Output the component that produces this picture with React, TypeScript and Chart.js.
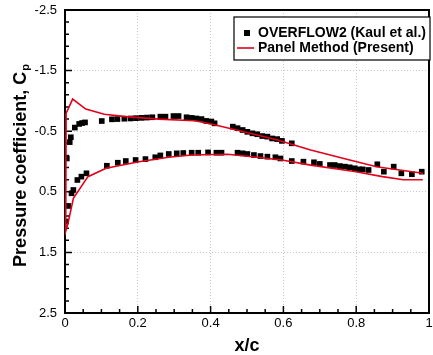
import React, { useEffect, useRef } from "react";
import { Chart, registerables } from "chart.js";

Chart.register(...registerables);

// ---- Data ----
// Panel Method (Present): closed path, lower surface TE -> LE -> upper surface TE
const panelX = [
  0.983, 0.93, 0.872, 0.8, 0.766, 0.675, 0.6, 0.528, 0.447, 0.348, 0.285, 0.203, 0.113, 0.063, 0.023, 0.009, 0.002,
  0.003, 0.021, 0.057, 0.108, 0.167, 0.257, 0.357, 0.402, 0.528, 0.584, 0.675, 0.766, 0.856, 0.983,
];
const panelCp = [
  0.3, 0.3, 0.25, 0.168, 0.14, 0.06, -0.02, -0.07, -0.12, -0.107, -0.07, 0.003, 0.112, 0.25, 0.607, 1.0, 1.15,
  -0.795, -1.03, -0.866, -0.779, -0.74, -0.7, -0.673, -0.62, -0.437, -0.355, -0.19, -0.05, 0.086, 0.195,
];

// OVERFLOW2 (Kaul et al.) upper surface
const upperX = [
  0.005, 0.013, 0.016, 0.027, 0.039, 0.047, 0.055, 0.101, 0.129, 0.144, 0.163, 0.18, 0.195, 0.21, 0.225, 0.24,
  0.262, 0.276, 0.298, 0.312, 0.334, 0.348, 0.361, 0.375, 0.388, 0.402, 0.411, 0.461, 0.474, 0.488, 0.501, 0.515,
  0.528, 0.542, 0.556, 0.569, 0.583, 0.596, 0.623, 0.858, 0.903, 0.98,
];
const upperCp = [
  -0.05, -0.32, -0.4, -0.56, -0.62, -0.635, -0.645, -0.668, -0.696, -0.7, -0.706, -0.71, -0.715, -0.72, -0.725, -0.73,
  -0.74, -0.74, -0.75, -0.75, -0.73, -0.72, -0.71, -0.7, -0.67, -0.66, -0.63, -0.575, -0.55, -0.52, -0.49, -0.465,
  -0.45, -0.42, -0.41, -0.38, -0.37, -0.34, -0.3, 0.046, 0.085, 0.168,
];

// OVERFLOW2 (Kaul et al.) lower surface
const lowerX = [
  0.003, 0.009, 0.018, 0.023, 0.034, 0.045, 0.059, 0.115, 0.145, 0.167, 0.194, 0.221, 0.248, 0.262, 0.285, 0.307,
  0.325, 0.348, 0.366, 0.393, 0.416, 0.43, 0.474, 0.488, 0.501, 0.519, 0.537, 0.556, 0.578, 0.592, 0.623, 0.655,
  0.684, 0.7, 0.728, 0.741, 0.755, 0.769, 0.782, 0.796, 0.809, 0.818, 0.834, 0.876, 0.924, 0.953,
];
const lowerCp = [
  0.99, 0.734, 0.525, 0.47, 0.305, 0.25, 0.195, 0.07, 0.02, -0.008, -0.025, -0.04, -0.07, -0.1, -0.124, -0.135,
  -0.14, -0.145, -0.145, -0.15, -0.145, -0.145, -0.145, -0.135, -0.124, -0.107, -0.09, -0.08, -0.07, -0.05, -0.008, 0.003,
  0.013, 0.04, 0.058, 0.058, 0.075, 0.085, 0.096, 0.112, 0.13, 0.13, 0.14, 0.168, 0.195, 0.21,
];

const xTicks = [0, 0.2, 0.4, 0.6, 0.8, 1];
const yTicks = [-2.5, -1.5, -0.5, 0.5, 1.5, 2.5];

const legendLabels = ["OVERFLOW2 (Kaul et al.)", "Panel Method (Present)"];
const yTitle = "Pressure coefficient, C";
const yTitleSub = "p";
const xTitle = "x/c";

const RED = "#e3001b";
const FONT = "'Liberation Sans', Arial, sans-serif";

const toPoints = (xs: number[], ys: number[]) => xs.map((x, i) => ({ x, y: ys[i] }));

const framePlugin = {
  id: "frameTicks",
  beforeDatasetsDraw(chart: any) {
    const { ctx, chartArea: a, scales } = chart;
    const xs = scales.x;
    const ys = scales.y;
    ctx.save();
    ctx.strokeStyle = "#000";
    ctx.lineWidth = 1.5;
    ctx.beginPath();
    for (let i = 0; i <= 20; i++) {
      const v = i * 0.05;
      const px = xs.getPixelForValue(v);
      const len = i % 4 === 0 ? 7 : 4;
      ctx.moveTo(px, a.bottom);
      ctx.lineTo(px, a.bottom - len);
    }
    for (let i = 0; i <= 25; i++) {
      const v = -2.5 + i * 0.2;
      const py = ys.getPixelForValue(v);
      const len = i % 5 === 0 ? 7 : 4;
      ctx.moveTo(a.left, py);
      ctx.lineTo(a.left + len, py);
    }
    ctx.stroke();
    ctx.lineWidth = 2;
    ctx.strokeRect(a.left, a.top, a.right - a.left, a.bottom - a.top);
    ctx.restore();
  },
  afterDraw(chart: any) {
    const { ctx, chartArea: a } = chart;
    ctx.save();
    ctx.fillStyle = "#000";
    ctx.font = `bold 18px ${FONT}`;
    const mainW = ctx.measureText(yTitle).width;
    ctx.font = `bold 11px ${FONT}`;
    const subW = ctx.measureText(yTitleSub).width;
    const total = mainW + subW;
    ctx.translate(26, 166);
    ctx.rotate(-Math.PI / 2);
    ctx.textBaseline = "alphabetic";
    ctx.textAlign = "left";
    ctx.font = `bold 18px ${FONT}`;
    ctx.fillText(yTitle, -total / 2, 0);
    ctx.font = `bold 11px ${FONT}`;
    ctx.fillText(yTitleSub, -total / 2 + mainW + 1, 3);
    ctx.restore();

    ctx.save();
    ctx.fillStyle = "#000";
    ctx.font = `bold 18px ${FONT}`;
    ctx.textAlign = "center";
    ctx.textBaseline = "alphabetic";
    ctx.fillText(xTitle, (a.left + a.right) / 2, 351);
    ctx.restore();

    ctx.save();
    const bx = 234, by = 17, bw = 196, bh = 43;
    ctx.fillStyle = "#fff";
    ctx.fillRect(bx, by, bw, bh);
    ctx.strokeStyle = "#000";
    ctx.lineWidth = 1.2;
    ctx.strokeRect(bx, by, bw, bh);
    ctx.fillStyle = "#000";
    ctx.fillRect(247 - 3, 33 - 3, 6, 6);
    ctx.strokeStyle = RED;
    ctx.lineWidth = 1.6;
    ctx.beginPath();
    ctx.moveTo(237, 48);
    ctx.lineTo(254, 48);
    ctx.stroke();
    ctx.fillStyle = "#000";
    ctx.font = `bold 14px ${FONT}`;
    ctx.textAlign = "left";
    ctx.textBaseline = "middle";
    ctx.fillText(legendLabels[0], 258, 33);
    ctx.fillText(legendLabels[1], 258, 48);
    ctx.restore();
  },
};

export default function App() {
  const ref = useRef<HTMLCanvasElement | null>(null);
  useEffect(() => {
    if (!ref.current) return;
    const chart = new Chart(ref.current, {
      type: "scatter",
      data: {
        datasets: [
          {
            label: legendLabels[1],
            data: toPoints(panelX, panelCp),
            showLine: true,
            borderColor: RED,
            borderWidth: 1.6,
            pointRadius: 0,
            fill: false,
            tension: 0,
          },
          {
            label: legendLabels[0],
            data: [...toPoints(upperX, upperCp), ...toPoints(lowerX, lowerCp)],
            showLine: false,
            pointStyle: "rect",
            pointRadius: 4,
            backgroundColor: "#000",
            borderColor: "#000",
            borderWidth: 0,
          },
        ],
      },
      options: {
        responsive: false,
        animation: false,
        devicePixelRatio: 1,
        layout: { padding: { top: 10, left: 0, right: 1, bottom: 0 } },
        plugins: { legend: { display: false }, tooltip: { enabled: false } },
        scales: {
          x: {
            type: "linear",
            min: 0,
            max: 1,
            afterBuildTicks: (s: any) => {
              s.ticks = xTicks.map((v) => ({ value: v }));
            },
            ticks: {
              font: { family: FONT, size: 13 },
              color: "#000",
              padding: 3,
              maxRotation: 0,
              callback: (v: any) => String(Math.round(Number(v) * 10) / 10),
            },
            grid: {
              drawTicks: false,
              color: (c: any) =>
                c.tick && (c.tick.value === 0 || c.tick.value === 1) ? "rgba(0,0,0,0)" : "#c8c8c8",
              lineWidth: 1,
            },
            border: { display: false, dash: [1, 2] },
            afterFit: (s: any) => {
              s.height = 42;
              s.paddingLeft = 0;
              s.paddingRight = 0;
            },
          },
          y: {
            type: "linear",
            min: -2.5,
            max: 2.5,
            reverse: true,
            afterBuildTicks: (s: any) => {
              s.ticks = yTicks.map((v) => ({ value: v }));
            },
            ticks: {
              font: { family: FONT, size: 13 },
              color: "#000",
              padding: 8,
              callback: (v: any) => String(Math.round(Number(v) * 10) / 10),
            },
            grid: {
              drawTicks: false,
              color: (c: any) =>
                c.tick && (c.tick.value === -2.5 || c.tick.value === 2.5) ? "rgba(0,0,0,0)" : "#c8c8c8",
              lineWidth: 1,
            },
            border: { display: false, dash: [1, 2] },
            afterFit: (s: any) => {
              s.width = 65;
              s.paddingTop = 0;
              s.paddingBottom = 0;
            },
          },
        },
      },
      plugins: [framePlugin],
    });
    return () => chart.destroy();
  }, []);
  return (
    <div style={{ position: "absolute", left: 0, top: 0, width: 433, height: 355, overflow: "hidden", background: "#fff" }}>
      <canvas ref={ref} width={433} height={355} style={{ display: "block" }} />
    </div>
  );
}
